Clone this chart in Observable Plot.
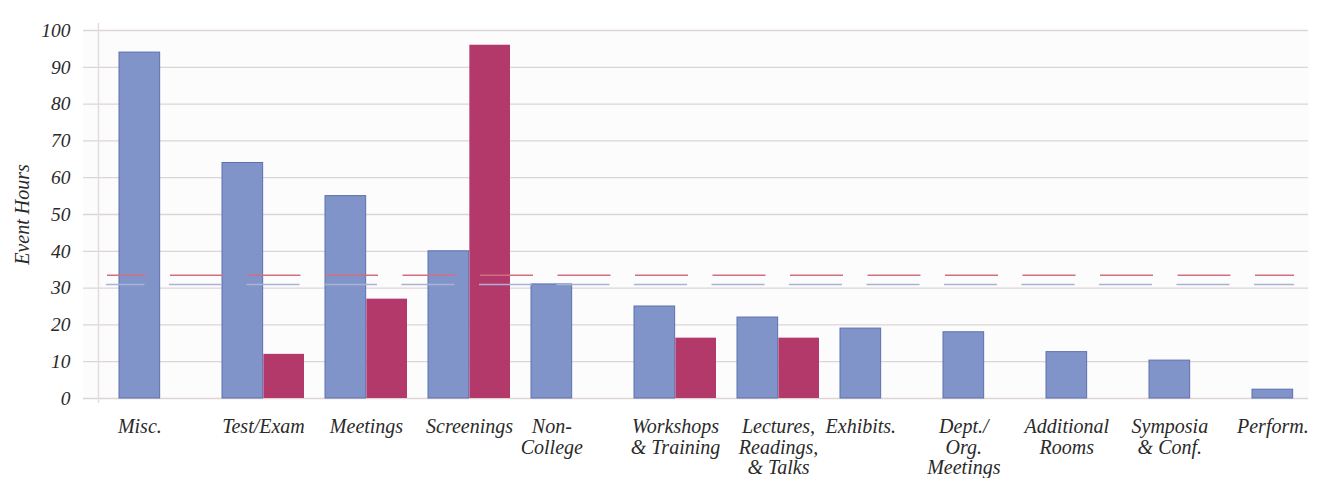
<!DOCTYPE html>
<html>
<head>
<meta charset="utf-8">
<script src="https://cdn.jsdelivr.net/npm/d3@7"></script>
<script src="https://cdn.jsdelivr.net/npm/@observablehq/plot@0.6"></script>
<style>
  html, body { margin: 0; padding: 0; background: #ffffff; }
  #chart svg { display: block; }
</style>
</head>
<body>
<div id="chart"></div>
<script>
// ---- data ----
const categories = ["Misc.", "Test/Exam", "Meetings", "Screenings", "Non-College",
  "Workshops & Training", "Lectures, Readings, & Talks", "Exhibits.",
  "Dept./Org. Meetings", "Additional Rooms", "Symposia & Conf.", "Perform."];
const tickLabels = ["Misc.", "Test/Exam", "Meetings", "Screenings", "Non-\nCollege",
  "Workshops\n& Training", "Lectures,\nReadings,\n& Talks", "Exhibits.",
  "Dept./\nOrg.\nMeetings", "Additional\nRooms", "Symposia\n& Conf.", "Perform."];
const blueValues = [94, 64, 55, 40, 31, 25, 22, 19, 18, 12.6, 10.3, 2.4];
const redValues  = [null, 12, 27, 96, null, 16.4, 16.4, null, null, null, null, null];
const blueAverage = 31;
const redAverage = 33.5;
const yTicks = [0, 10, 20, 30, 40, 50, 60, 70, 80, 90, 100];

// ---- derived tables ----
const rows = categories.map((c, i) => ({cat: c, label: tickLabels[i], blue: blueValues[i], red: redValues[i]}));
const redRows = rows.filter(d => d.red != null);
const withRed = rows.filter(d => d.red != null);
const withoutRed = rows.filter(d => d.red == null);

// ---- layout ----
const W = 1325, H = 478;
const xRange = [96, 1357];
const padding = 0.2;
const step = (xRange[1] - xRange[0]) / (categories.length - padding + 2 * padding);
const bw = step * (1 - padding);

const serif = "'Liberation Serif', 'DejaVu Serif', serif";
const blueFill = "#8194c9";
const blueStroke = "#5d71ae";
const redFill = "#b3396b";
const ink = "#2a2a2a";

const chart = Plot.plot({
  width: W,
  height: H,
  marginTop: 30,
  marginBottom: 80,
  marginLeft: 83,
  marginRight: 17,
  style: {fontFamily: serif, fontStyle: "italic", fontSize: "20px", color: ink, background: "#ffffff"},
  x: {domain: categories, range: xRange, paddingInner: padding, paddingOuter: padding, axis: null},
  y: {domain: [0, 100], axis: null},
  marks: [
    Plot.frame({fill: "#fcfcfd", stroke: null}),
    Plot.gridY(yTicks, {stroke: "#ddd4d6", strokeOpacity: 1, strokeWidth: 1.3}),
    Plot.ruleX(["Misc."], {x: d => d, dx: -(bw / 2 + step * padding), stroke: "#e3dcdd", strokeWidth: 1.5, insetTop: -7, insetBottom: -5}),
    Plot.axisY(yTicks, {tickSize: 0, tickPadding: 13, tickFormat: d => String(d), fontSize: 19.5, fontStyle: "italic", fill: ink}),
    Plot.text(["Event Hours"], {frameAnchor: "left", textAnchor: "middle", dx: -61, rotate: -90, fontSize: 20, fontStyle: "italic", fill: ink}),
    Plot.barY(rows, {x: "cat", y: "blue", insetRight: bw / 2, fill: blueFill, stroke: blueStroke, strokeWidth: 1}),
    Plot.barY(redRows, {x: "cat", y: "red", insetLeft: bw / 2, fill: redFill}),
    Plot.ruleY([redAverage], {stroke: "#cf6f82", strokeWidth: 1.5, insetLeft: 24, insetRight: 14, strokeDasharray: "53 24.5", strokeDashoffset: 14.5}),
    Plot.ruleY([blueAverage], {stroke: "#a9b2d3", strokeWidth: 1.5, insetLeft: 23, insetRight: 14, strokeDasharray: "53 24.5", strokeDashoffset: 14.5}),
    Plot.text(withRed, {x: "cat", y: () => 0, text: "label", lineAnchor: "top", dy: 20, lineHeight: 1.03, fontSize: 20, fontStyle: "italic", fill: ink}),
    Plot.text(withoutRed, {x: "cat", y: () => 0, text: "label", lineAnchor: "top", dx: -bw / 4, dy: 20, lineHeight: 1.03, fontSize: 20, fontStyle: "italic", fill: ink})
  ]
});
document.getElementById("chart").append(chart);
</script>
</body>
</html>
